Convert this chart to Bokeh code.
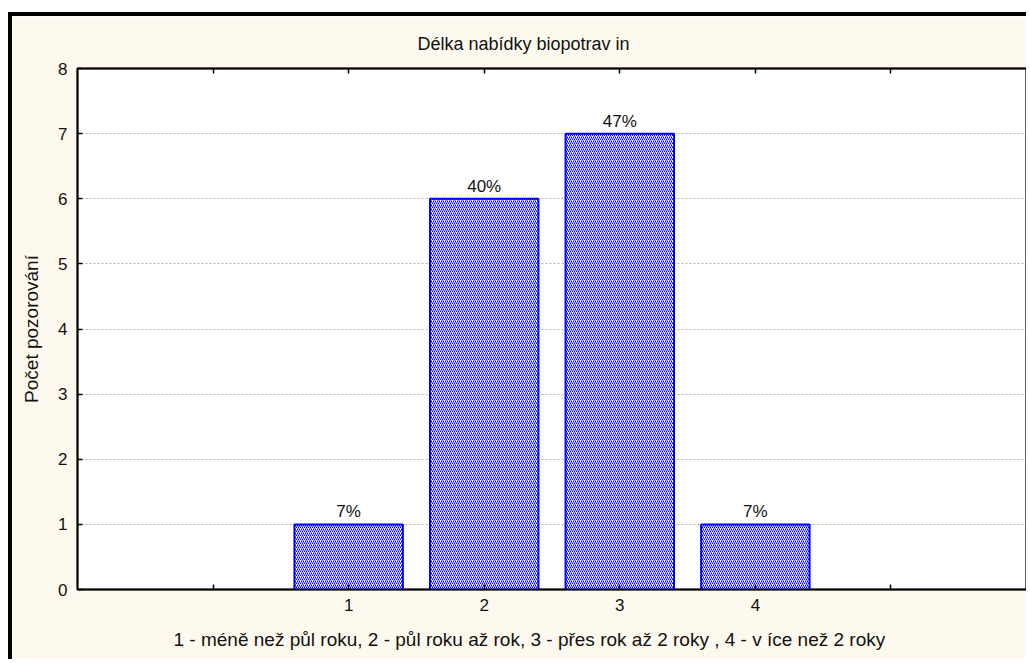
from bokeh.plotting import figure
from bokeh.models import ColumnDataSource, LinearAxis, FixedTicker, Range1d, Title
from bokeh.core.properties import value
from bokeh.embed import file_html
from bokeh.resources import INLINE

# Survey answers: how long biofood has been offered
categories = [1, 2, 3, 4]
counts = [1, 6, 7, 1]
x_ticks = [0, 1, 2, 3, 4, 5]
x_tick_labels = {0: "", 1: "1", 2: "2", 3: "3", 4: "4", 5: ""}
y_ticks = [0, 1, 2, 3, 4, 5, 6, 7, 8]

title_text = "Délka nabídky  biopotrav in"
y_title = "Počet pozorování"
x_title = "1 - méně než půl roku, 2 - půl roku až rok, 3 - přes rok až 2 roky , 4 - v íce než 2 roky"

total = sum(counts)
pct_labels = [f"{round(c / total * 100)}%" for c in counts]

FONT = "Liberation Sans"
CREAM = "#fef9ee"
INK = "#111111"

src = ColumnDataSource(dict(x=categories, top=counts, lab=pct_labels))

W, H = 1018, 647
p = figure(width=W, height=H, output_backend="svg", toolbar_location=None,
           x_range=Range1d(-1, 6), y_range=Range1d(0, 8),
           x_axis_location=None, y_axis_location=None,
           min_border_left=65, min_border_right=2, min_border_top=52, min_border_bottom=74)
p.styles = {"margin-left": "8px", "margin-top": "12px",
            "border-left": "4px solid black", "border-top": "4px solid black"}
p.border_fill_color = CREAM
p.background_fill_color = "white"
p.outline_line_color = "black"
p.outline_line_width = 2

p.title.text = title_text
p.title.align = "left"
p.title.offset = 340
p.title.standoff = 29
p.title.text_font = FONT
p.title.text_font_size = "18px"
p.title.text_font_style = "normal"
p.title.text_color = INK

# axes: left and bottom carry labels, top and right only ticks
left = LinearAxis(ticker=FixedTicker(ticks=y_ticks), axis_label=y_title)
bottom = LinearAxis(ticker=FixedTicker(ticks=x_ticks), major_label_overrides=x_tick_labels)
top = LinearAxis(ticker=FixedTicker(ticks=x_ticks), major_label_text_font_size="0px")
right = LinearAxis(ticker=FixedTicker(ticks=y_ticks), major_label_text_font_size="0px")
for ax in (left, bottom, top, right):
    ax.axis_line_color = "black"
    ax.axis_line_width = 1.5
    ax.major_tick_line_color = "black"
    ax.major_tick_line_width = 1.5
    ax.minor_tick_line_color = None
    ax.major_label_text_font = FONT
    ax.major_label_text_color = INK
for ax in (left, bottom, top):
    ax.major_tick_in = 5
    ax.major_tick_out = 0
right.major_tick_in = 0
right.major_tick_out = 4
left.major_label_text_font_size = "17px"
bottom.major_label_text_font_size = "17px"
left.major_label_standoff = 10
bottom.major_label_standoff = 9
top.major_label_standoff = 0
right.major_label_standoff = 0
left.axis_label_text_font = FONT
left.axis_label_text_font_size = "19px"
left.axis_label_text_font_style = "normal"
left.axis_label_text_color = INK
left.axis_label_standoff = 13
p.add_layout(left, "left")
p.add_layout(bottom, "below")
p.add_layout(top, "above")
p.add_layout(right, "right")

# key to the category codes, under the axis
p.add_layout(Title(text=x_title, align="left", offset=96, standoff=26,
                   text_font=FONT, text_font_size="19px", text_font_style="normal",
                   text_color=INK), "below")

p.xgrid.visible = False
p.ygrid.ticker = FixedTicker(ticks=y_ticks)
p.ygrid.grid_line_color = "#b4b4b4"
p.ygrid.grid_line_dash = "2 2"
p.ygrid.grid_line_width = 1

p.vbar(x="x", top="top", bottom=0, width=0.8, source=src,
       fill_color="white", line_color="#0000ff", line_width=2,
       hatch_pattern="right_diagonal_line", hatch_color="#0000ff",
       hatch_scale=4, hatch_weight=1)

p.text(x="x", y="top", text="lab", source=src, text_align="center",
       text_baseline="bottom", y_offset=-3, text_font=value(FONT),
       text_font_size="17px", text_color=INK)

open("out.html", "w").write(file_html(p, INLINE))
